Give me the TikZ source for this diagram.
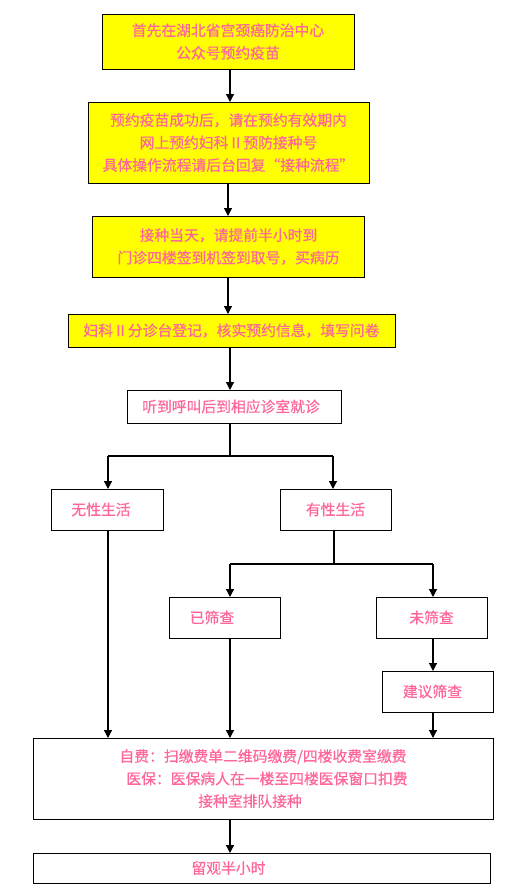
\documentclass[tikz,border=0pt]{standalone}
\usepackage{fontspec}
\setmainfont{Noto Sans CJK SC}[FakeBold=0.6]
\usetikzlibrary{arrows.meta}
\definecolor{txtpink}{HTML}{FF6699}
\definecolor{boxyellow}{HTML}{FFFF00}
\tikzset{
  box/.style={draw=black, line width=0.9pt, inner sep=0pt, outer sep=0pt, align=center,
    text=txtpink, font=\fontsize{14.8}{22.5}\selectfont},
  ybox/.style={box, fill=boxyellow},
  wbox/.style={box, fill=white},
  arr/.style={line width=1.2pt, -{Triangle[width=8pt,length=8pt]}},
  branch/.style={line width=1.6pt},
}
\begin{document}
\begin{tikzpicture}[x=1pt,y=-1pt]
\useasboundingbox (0,0) rectangle (509,891);
% boxes
\node[ybox, minimum width=252pt, minimum height=55pt] (b1) at (228,41.5) {首先在湖北省宫颈癌防治中心\\公众号预约疫苗};
\node[ybox, minimum width=281pt, minimum height=81pt] (b2) at (228.5,142.5) {预约疫苗成功后，请在预约有效期内\\网上预约妇科Ⅱ预防接种号\\具体操作流程请后台回复“接种流程”};
\node[ybox, minimum width=272pt, minimum height=61pt] (b3) at (228.5,246.5) {接种当天，请提前半小时到\\门诊四楼签到机签到取号，买病历};
\node[ybox, minimum width=327pt, minimum height=33pt] (b4) at (231.5,330.5) {妇科Ⅱ分诊台登记，核实预约信息，填写问卷};
\node[wbox, minimum width=214pt, minimum height=33pt] (b5) at (234,406.5) {\hspace*{-6pt}听到呼叫后到相应诊室就诊};
\node[wbox, minimum width=112pt, minimum height=41pt] (b6) at (107,509.5) {\hspace*{-12pt}无性生活};
\node[wbox, minimum width=111pt, minimum height=41pt] (b7) at (335.5,509.5) {有性生活};
\node[wbox, minimum width=111pt, minimum height=41pt] (b8) at (224.5,617.5) {\hspace*{-25pt}已筛查};
\node[wbox, minimum width=111pt, minimum height=41pt] (b9) at (431.5,617.5) {未筛查};
\node[wbox, minimum width=111pt, minimum height=41pt] (b10) at (437.5,691.5) {\hspace*{-10pt}建议筛查};
\node[wbox, minimum width=460pt, minimum height=81pt] (b11) at (263,778.5) {自费：扫缴费单二维码缴费/四楼收费室缴费\\\hspace*{8pt}医保：医保病人在一楼至四楼医保窗口扣费\\接种室排队接种\hspace*{26pt}};
\node[wbox, minimum width=457pt, minimum height=30pt] (b12) at (261.5,868) {\hspace*{-66pt}留观半小时};
% coordinates
\coordinate (j1) at (230,456);
\coordinate (j2) at (334,564);
% connectors
\draw[arr] (b1.south -| 230,0) -- (b2.north -| 230,0);
\draw[arr] (b2.south -| 228,0) -- (b3.north -| 228,0);
\draw[arr] (b3.south -| 228,0) -- (b4.north -| 228,0);
\draw[arr] (b4.south -| 230,0) -- (b5.north -| 230,0);
\draw[branch] (b5.south -| j1) -- (j1);
\draw[branch] (j1) -- (j1 -| 108,0);
\draw[branch] (j1) -- (j1 -| 333,0);
\draw[arr] (j1 -| 108,0) -- (b6.north -| 108,0);
\draw[arr] (j1 -| 333,0) -- (b7.north -| 333,0);
\draw[branch] (b7.south -| j2) -- (j2);
\draw[branch] (j2) -- (j2 -| 230,0);
\draw[branch] (j2) -- (j2 -| 433,0);
\draw[arr] (j2 -| 230,0) -- (b8.north -| 230,0);
\draw[arr] (j2 -| 433,0) -- (b9.north -| 433,0);
\draw[arr] (b9.south -| 433,0) -- (b10.north -| 433,0);
\draw[arr] (b6.south -| 108,0) -- (b11.north -| 108,0);
\draw[arr] (b8.south -| 230,0) -- (b11.north -| 230,0);
\draw[arr] (b10.south -| 433,0) -- (b11.north -| 433,0);
\draw[arr] (b11.south -| 230,0) -- (b12.north -| 230,0);
\end{tikzpicture}
\end{document}
